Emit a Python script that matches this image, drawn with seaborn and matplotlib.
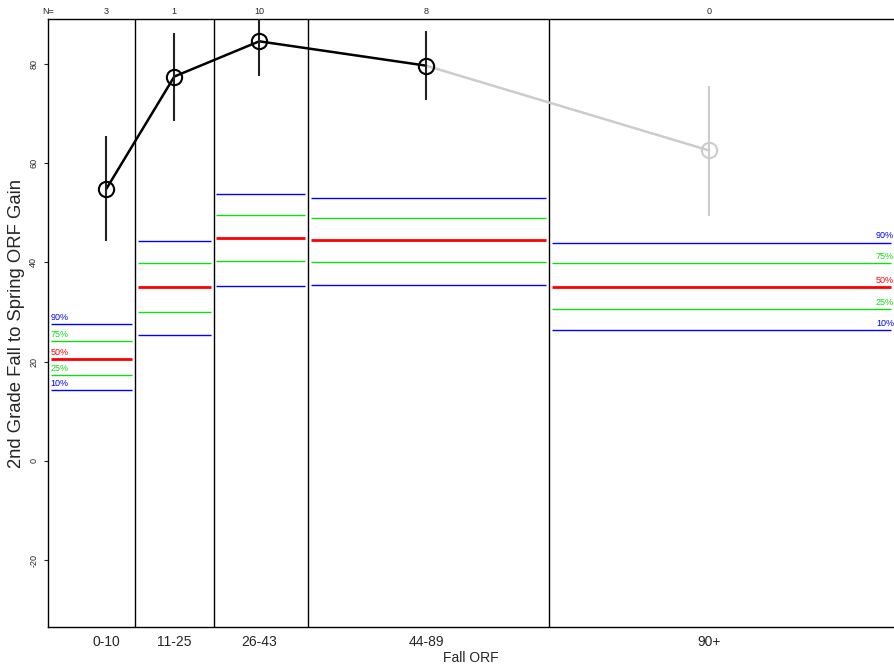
import numpy as np
import pandas as pd
import matplotlib
matplotlib.use("Agg")
import matplotlib.pyplot as plt
import seaborn as sns

# Dane
bins = ["0-10", "11-25", "26-43", "44-89", "90+"]
counts = [3, 1, 10, 8, 0]
centers = [5, 18, 34.2, 66, 120]
edges = [10.5, 25.5, 43.5, 89.5]

mean_gain = [54.8, 77.5, 84.6, 79.7, 62.6]
err_lo = [44.4, 68.6, 77.6, 72.8, 49.4]
err_hi = [65.5, 86.3, 90.5, 86.7, 75.6]

p90 = [27.6, 44.4, 53.9, 53.0, 44.0]
p75 = [24.1, 39.9, 49.6, 48.9, 39.9]
p50 = [20.6, 35.0, 45.0, 44.6, 35.1]
p25 = [17.3, 30.1, 40.3, 40.1, 30.6]
p10 = [14.3, 25.3, 35.3, 35.5, 26.3]

df = pd.DataFrame({"bin": bins, "n": counts, "x": centers,
                   "gain": mean_gain, "lo": err_lo, "hi": err_hi})

sns.set_theme(style="ticks")
plt.rcParams["font.family"] = ["Liberation Sans", "DejaVu Sans"]

fig = plt.figure(figsize=(8.94, 6.65), dpi=100)
ax = fig.add_axes([48 / 894, 38 / 665, 1 - 48 / 894, (627 - 19) / 665])

x_min, x_max = -6.1, 155.3
y_top = 89.1
ax.set_xlim(x_min, x_max)
ax.set_ylim(-33.5, y_top)

# Linie podziału przedziałów
for e in edges:
    ax.axvline(e, color="black", lw=1, zorder=1)

# Linie percentyli w każdym przedziale
left = [x_min] + edges
right = edges + [x_max]
pad = 0.5
levels = [("90%", p90, "#0000ff", 1.0), ("75%", p75, "#11dd11", 1.0),
          ("50%", p50, "#ff0000", 2.0), ("25%", p25, "#11dd11", 1.0),
          ("10%", p10, "#0000ff", 1.0)]
for name, vals, col, lw in levels:
    ax.hlines(vals, [l + pad for l in left], [r - pad for r in right],
              colors=col, lw=lw, zorder=2)
    ax.annotate(name, (left[0] + pad, vals[0]), xytext=(0, 3),
                textcoords="offset points", color=col, fontsize=6.5,
                ha="left", va="baseline")
    ax.annotate(name, (x_max, vals[-1]), xytext=(0, 3),
                textcoords="offset points", color=col, fontsize=6.5,
                ha="right", va="baseline", annotation_clip=False)

# Średnie z przedziałami błędu
have = df[df["n"] > 0]
none = df.iloc[len(have) - 1:]
sns.lineplot(data=have, x="x", y="gain", color="black", lw=1.8,
             ax=ax, zorder=4, sort=False)
sns.lineplot(data=none, x="x", y="gain", color="#cccccc", lw=1.8,
             ax=ax, zorder=3, sort=False)
for _, r in df.iterrows():
    c = "black" if r["n"] > 0 else "#cccccc"
    lc = "#222222" if r["n"] > 0 else "#cccccc"
    ax.vlines(r["x"], r["lo"], r["hi"], color=lc, lw=1.5, zorder=4)
    ax.plot(r["x"], r["gain"], marker="o", ms=11, mfc="none",
            mec=c, mew=1.5, zorder=5)

# Liczebności nad wykresem
ax.annotate("N=", (x_min, y_top), xytext=(0, 2), textcoords="offset points",
            fontsize=6.5, ha="center", va="bottom", annotation_clip=False)
for x, n in zip(centers, counts):
    ax.annotate(str(n), (x, y_top), xytext=(0, 2), textcoords="offset points",
                fontsize=6.5, ha="center", va="bottom", annotation_clip=False)

ax.set_xticks(centers)
ax.set_xticklabels(bins, fontsize=10)
ax.tick_params(axis="x", length=0, pad=6)
ax.set_yticks([-20, 0, 20, 40, 60, 80])
ax.set_yticklabels(["-20", "0", "20", "40", "60", "80"], rotation=90,
                   fontsize=6.5, va="center")
ax.tick_params(axis="y", length=3, width=0.8, pad=4)

ax.set_xlabel("Fall ORF", fontsize=10, labelpad=1)
ax.set_ylabel("2nd Grade Fall to Spring ORF Gain", fontsize=13.3)
ax.yaxis.set_label_coords(-31 / 846, 0.5)
ax.yaxis.label.set_va("center")

for s in ["left", "top", "bottom"]:
    ax.spines[s].set_color("black")
    ax.spines[s].set_linewidth(1)
ax.spines["right"].set_visible(False)

fig.savefig("out.png", dpi=100)
